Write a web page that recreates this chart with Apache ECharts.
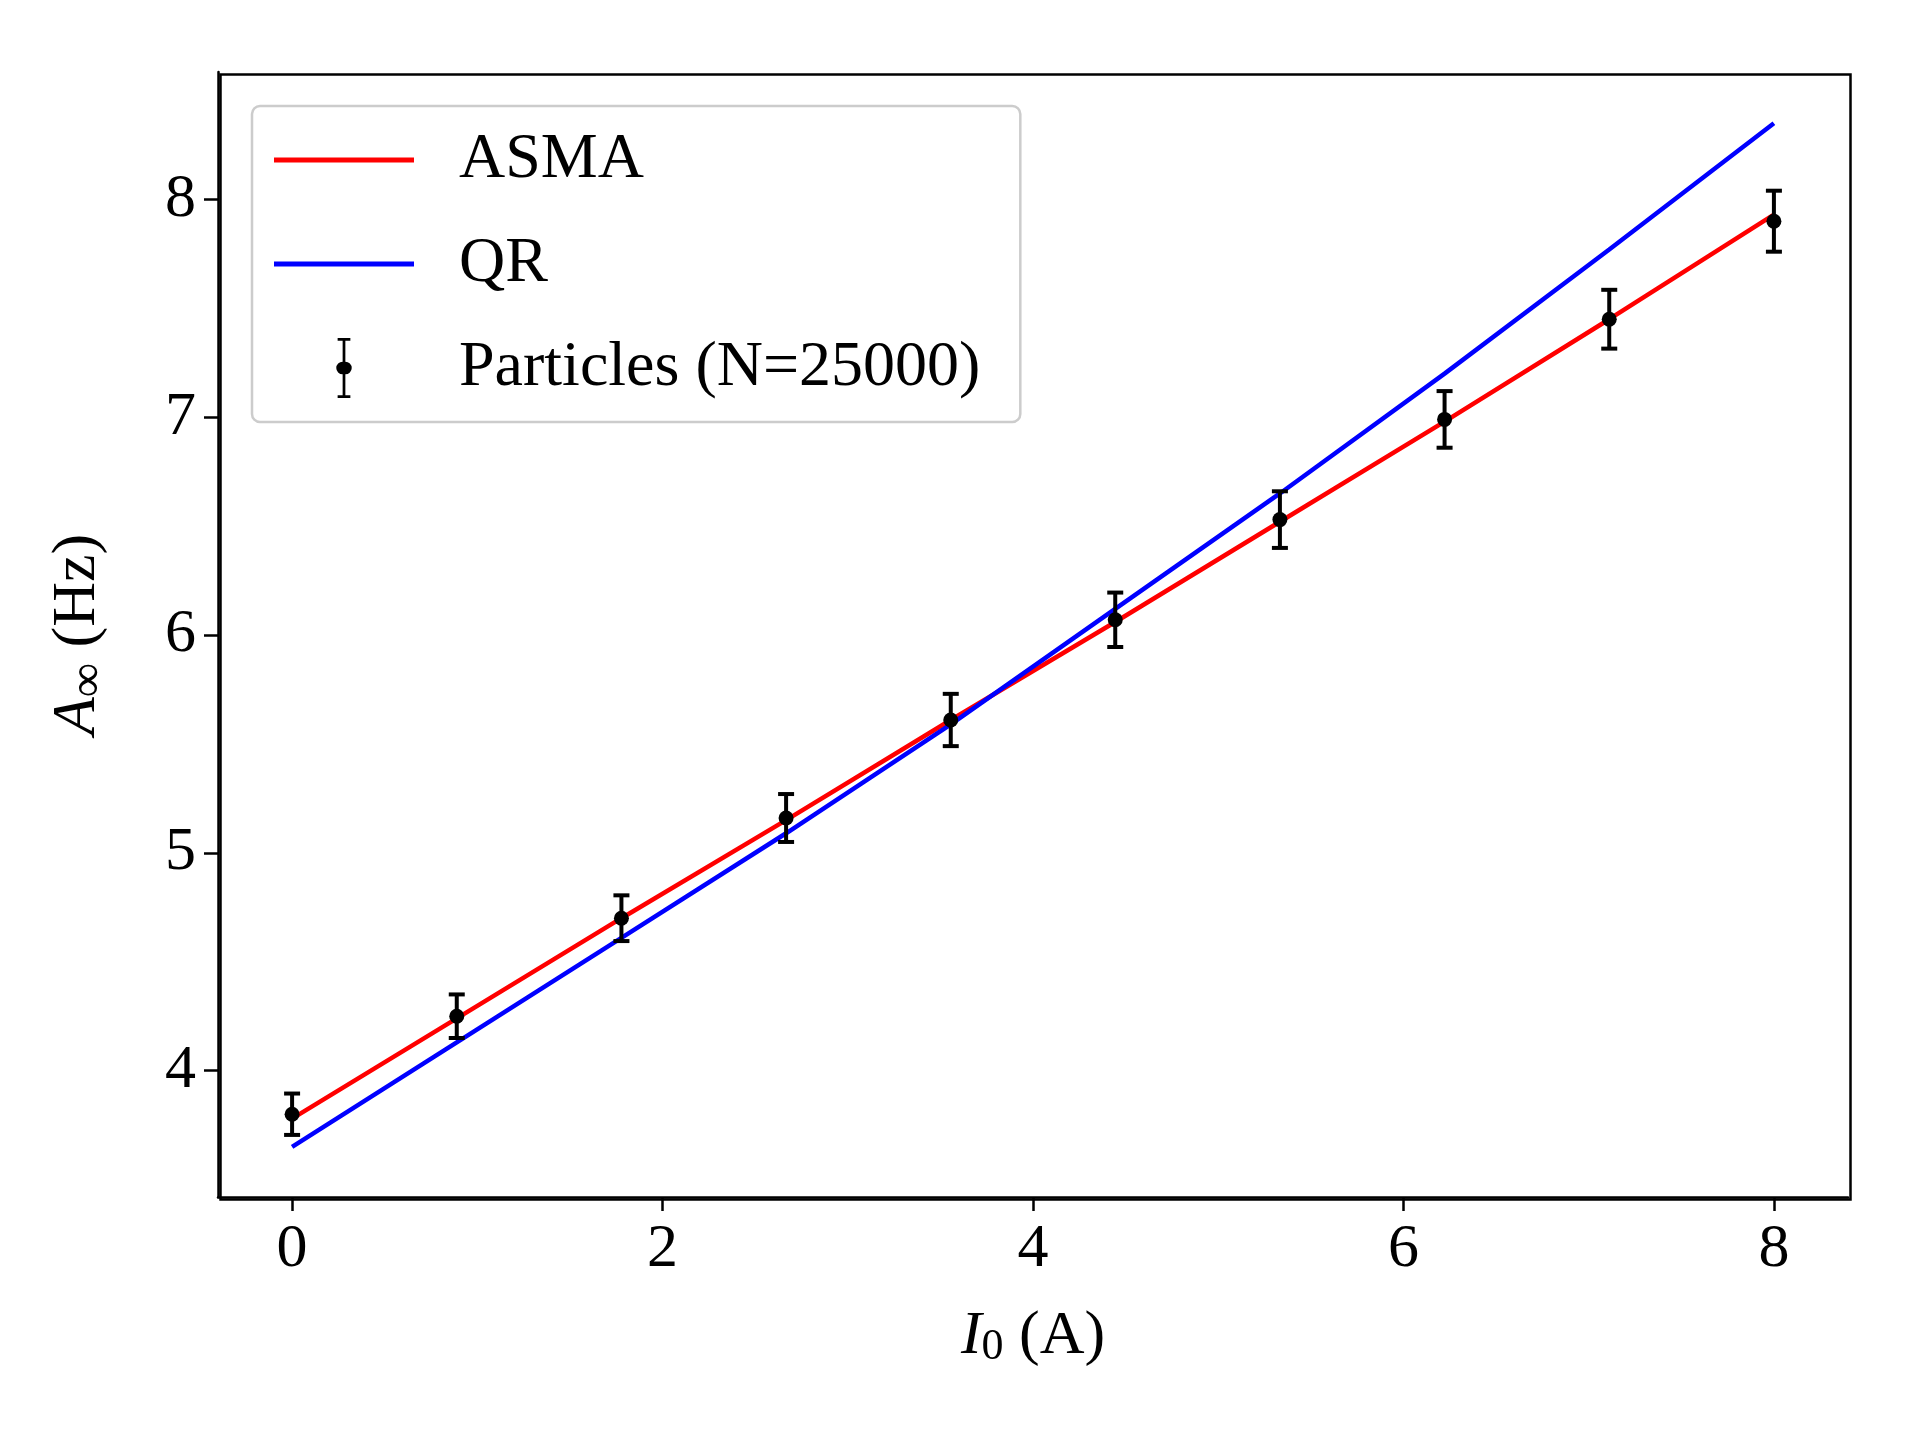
<!DOCTYPE html>
<html><head><meta charset="utf-8">
<script src="https://cdn.jsdelivr.net/npm/echarts@6/dist/echarts.min.js"></script>
<style>html,body{margin:0;background:#fff}#c{width:1920px;height:1440px}</style>
</head><body><div id="c"></div>
<script>
// 数据
var currents = [0, 0.889, 1.778, 2.667, 3.556, 4.444, 5.333, 6.222, 7.111, 8]
var particles = [3.80, 4.25, 4.70, 5.16, 5.61, 6.07, 6.53, 6.99, 7.45, 7.90]
var particleErr = [0.095, 0.10, 0.105, 0.11, 0.12, 0.125, 0.13, 0.13, 0.135, 0.14]
var asma = [3.78, 4.24, 4.70, 5.15, 5.61, 6.06, 6.52, 6.98, 7.45, 7.93]
var qr = [3.65, 4.13, 4.61, 5.09, 5.59, 6.12, 6.65, 7.20, 7.77, 8.35]
var xTicks = [0, 2, 4, 6, 8]
var yTicks = [4, 5, 6, 7, 8]

var font = 'Liberation Serif'
var myChart = echarts.init(document.getElementById('c'))

function pairs(ys) {
  return currents.map(function (x, i) { return [x, ys[i]] })
}
var errData = currents.map(function (x, i) { return [x, particles[i], particleErr[i]] })

var option = {
  animation: false,
  textStyle: { fontFamily: font },
  grid: { left: 218, right: 72, top: 72, bottom: 243 },
  legend: {
    left: 252, top: 106, orient: 'vertical',
    padding: [22, 40, 22, 22],
    itemGap: 40, itemWidth: 140, itemHeight: 60,
    backgroundColor: '#fff', borderColor: '#ccc', borderWidth: 2.5, borderRadius: 8,
    textStyle: { fontFamily: font, fontSize: 64, color: '#000', padding: [0, 0, 0, 40] },
    data: [
      { name: 'ASMA', icon: 'path://M0,28 L140,28 L140,33 L0,33 Z', itemStyle: { color: 'red' } },
      { name: 'QR', icon: 'path://M0,28 L140,28 L140,33 L0,33 Z', itemStyle: { color: 'blue' } },
      { name: 'Particles (N=25000)', icon: 'path://M0,0 L14,0 L14,3 L8.5,3 L8.5,26 A7,7 0 0 1 8.5,40 L8.5,63 L14,63 L14,66 L0,66 L0,63 L5.5,63 L5.5,40 A7,7 0 0 1 5.5,26 L5.5,3 L0,3 Z', itemStyle: { color: '#000' } }
    ]
  },
  xAxis: {
    type: 'value', min: -0.4, max: 8.4, interval: 2,
    axisLine: { onZero: false, lineStyle: { color: '#000', width: 2.5 } },
    axisTick: { length: 14, lineStyle: { width: 2.5, color: '#000' }, customValues: xTicks },
    axisLabel: { fontSize: 62, color: '#000', margin: 22, fontFamily: font, customValues: xTicks },
    splitLine: { show: false },
    name: '{i|I}{s|0} (A)', nameLocation: 'middle', nameGap: 108,
    nameTextStyle: { fontSize: 62, color: '#000', fontFamily: font,
      rich: { i: { fontSize: 62, fontStyle: 'italic', fontFamily: font }, s: { fontSize: 44, fontFamily: font, verticalAlign: 'bottom', padding: [20, 0, 0, 0] } } }
  },
  yAxis: {
    type: 'value', min: 3.42, max: 8.585,
    axisLine: { onZero: false, lineStyle: { color: '#000', width: 2.5 } },
    axisTick: { length: 14, lineStyle: { width: 2.5, color: '#000' }, customValues: yTicks },
    axisLabel: { fontSize: 62, color: '#000', margin: 22, fontFamily: font, customValues: yTicks },
    splitLine: { show: false },
    name: '{i|A}{s|∞} (Hz)', nameLocation: 'middle', nameGap: 105,
    nameTextStyle: { fontSize: 62, color: '#000', fontFamily: font,
      rich: { i: { fontSize: 62, fontStyle: 'italic', fontFamily: font }, s: { fontSize: 48, fontFamily: font, verticalAlign: 'bottom', padding: [22, 0, 0, 0] } } }
  },
  series: [
    { name: 'ASMA', type: 'line', data: pairs(asma), showSymbol: false, lineStyle: { color: 'red', width: 4.5 }, itemStyle: { color: 'red' } },
    { name: 'QR', type: 'line', data: pairs(qr), showSymbol: false, lineStyle: { color: 'blue', width: 4.5 }, itemStyle: { color: 'blue' } },
    {
      name: 'Particles (N=25000)', type: 'custom', data: errData, itemStyle: { color: '#000' },
      renderItem: function (params, api) {
        var x = api.value(0), y = api.value(1), e = api.value(2)
        var top = api.coord([x, y + e]), bot = api.coord([x, y - e]), c = api.coord([x, y])
        var st = { stroke: '#000', lineWidth: 4 }
        return { type: 'group', children: [
          { type: 'line', shape: { x1: top[0], y1: top[1], x2: bot[0], y2: bot[1] }, style: st },
          { type: 'line', shape: { x1: top[0] - 8, y1: top[1], x2: top[0] + 8, y2: top[1] }, style: st },
          { type: 'line', shape: { x1: bot[0] - 8, y1: bot[1], x2: bot[0] + 8, y2: bot[1] }, style: st },
          { type: 'circle', shape: { cx: c[0], cy: c[1], r: 7.5 }, style: { fill: '#000' } }
        ] }
      },
      z: 5
    }
  ],
  graphic: [{
    type: 'rect', left: 218, top: 72, shape: { width: 1630, height: 1125 },
    style: { fill: 'none', stroke: '#000', lineWidth: 2.5 }, silent: true, z: 10
  }]
}
myChart.setOption(option)
</script></body></html>
